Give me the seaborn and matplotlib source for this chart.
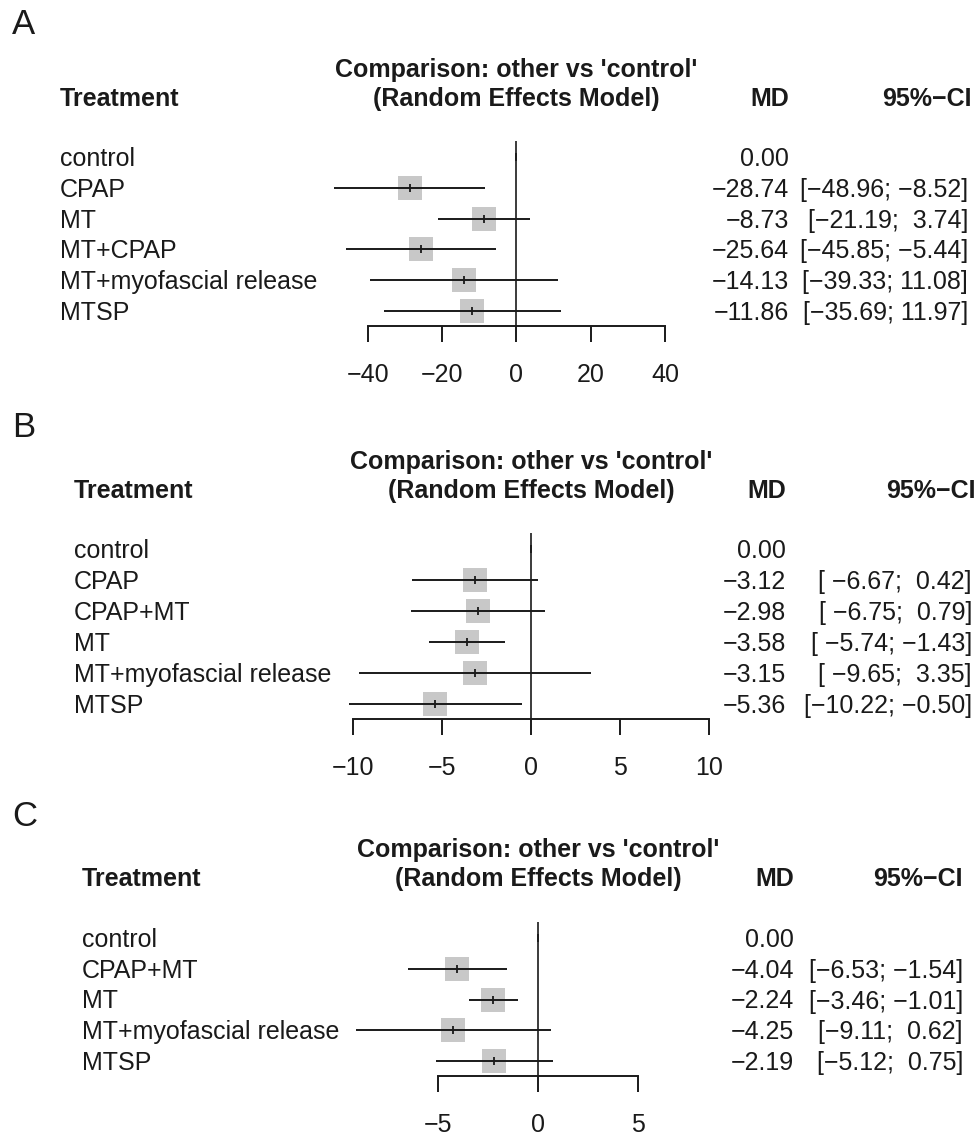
import matplotlib
matplotlib.use("Agg")
import matplotlib.pyplot as plt
import matplotlib.transforms as mtransforms
import numpy as np
import pandas as pd
import seaborn as sns

sns.set_style("white")
plt.rcParams["font.family"] = ["Liberation Sans", "DejaVu Sans"]

# data
a_treat = ["control", "CPAP", "MT", "MT+CPAP", "MT+myofascial release", "MTSP"]
a_md = [0.00, -28.74, -8.73, -25.64, -14.13, -11.86]
a_lo = [np.nan, -48.96, -21.19, -45.85, -39.33, -35.69]
a_hi = [np.nan, -8.52, 3.74, -5.44, 11.08, 11.97]
a_ticks = [-40, -20, 0, 20, 40]

b_treat = ["control", "CPAP", "CPAP+MT", "MT", "MT+myofascial release", "MTSP"]
b_md = [0.00, -3.12, -2.98, -3.58, -3.15, -5.36]
b_lo = [np.nan, -6.67, -6.75, -5.74, -9.65, -10.22]
b_hi = [np.nan, 0.42, 0.79, -1.43, 3.35, -0.50]
b_ticks = [-10, -5, 0, 5, 10]

c_treat = ["control", "CPAP+MT", "MT", "MT+myofascial release", "MTSP"]
c_md = [0.00, -4.04, -2.24, -4.25, -2.19]
c_lo = [np.nan, -6.53, -3.46, -9.11, -5.12]
c_hi = [np.nan, -1.54, -1.01, 0.62, 0.75]
c_ticks = [-5, 0, 5]

W, H = 978, 1137
MINUS = "\u2212"
INK = "#1a1a1a"
FS = 18

# pixel layout of each panel (x of tick range, y of rows, spine, text columns)
layouts = [
    dict(letter="A", xpx=(367.7, 665), top=141, rows=(157, 311), spine=326,
         lab=60, md=789, ci=968, cihead=972, head=(68, 97), let_y=22),
    dict(letter="B", xpx=(352.7, 709), top=533, rows=(549, 704), spine=719,
         lab=74, md=786, ci=972, cihead=976, head=(460, 489), let_y=425),
    dict(letter="C", xpx=(438.3, 638), top=922, rows=(938, 1061), spine=1076,
         lab=82, md=794, ci=963, cihead=963, head=(848, 877), let_y=815),
]
panels = [
    (a_treat, a_md, a_lo, a_hi, a_ticks),
    (b_treat, b_md, b_lo, b_hi, b_ticks),
    (c_treat, c_md, c_lo, c_hi, c_ticks),
]


def fmt(v):
    return f"{v:.2f}".replace("-", MINUS)


def ci_strings(lo, hi):
    lo_s = [f"{v:.2f}" for v in lo[1:]]
    hi_s = [f"{v:.2f}" for v in hi[1:]]
    wl = max(len(s) for s in lo_s)
    wh = max(len(s) for s in hi_s)
    out = [""]
    for l, h in zip(lo_s, hi_s):
        out.append(("[" + l.rjust(wl) + "; " + h.rjust(wh) + "]").replace("-", MINUS))
    return out


fig = plt.figure(figsize=(W / 100, H / 100), dpi=100)
# nudge all text a couple of pixels down so the glyph centres sit on the rows
nudge = mtransforms.ScaledTranslation(0, -2 / 100, fig.dpi_scale_trans)

for (treat, md, lo, hi, ticks), lay in zip(panels, layouts):
    n = len(treat)
    x0, x1 = lay["xpx"]
    ax = fig.add_axes([x0 / W, 1 - lay["spine"] / H, (x1 - x0) / W,
                       (lay["spine"] - lay["top"]) / H])
    step = (lay["rows"][1] - lay["rows"][0]) / (n - 1)
    ax.set_ylim((lay["spine"] - lay["rows"][0]) / step,
                (lay["top"] - lay["rows"][0]) / step)
    ax.set_xlim(ticks[0], ticks[-1])

    df = pd.DataFrame({"treat": treat, "md": md, "lo": lo, "hi": hi,
                       "row": np.arange(n)})
    est = df.iloc[1:]

    ax.axvline(0, color=INK, lw=1.2, zorder=1)
    sns.scatterplot(data=est, x="md", y="row", marker="s", s=300,
                    color="#c8c8c8", linewidth=0, ax=ax, zorder=2,
                    clip_on=False, legend=False)
    ax.hlines(est["row"], est["lo"], est["hi"], color=INK, lw=1.4,
              zorder=3, clip_on=False)
    ax.scatter(df["md"], df["row"], marker="|", s=34, color=INK,
               linewidths=1.3, zorder=4, clip_on=False)

    ax.set_xticks(ticks)
    ax.set_xticklabels([str(t).replace("-", MINUS) for t in ticks])
    ax.set_yticks([])
    ax.set_xlabel("")
    ax.set_ylabel("")
    for s in ["left", "right", "top"]:
        ax.spines[s].set_visible(False)
    ax.spines["bottom"].set_color(INK)
    ax.spines["bottom"].set_linewidth(1.4)
    ax.tick_params(axis="x", direction="out", length=11.5, width=1.4,
                   color=INK, labelsize=FS, labelcolor=INK, pad=15,
                   bottom=True)

    tr = mtransforms.blended_transform_factory(fig.transFigure, ax.transData) + nudge
    cis = ci_strings(lo, hi)
    for i in range(n):
        fig.text(lay["lab"] / W, i, treat[i], transform=tr, ha="left",
                 va="center", fontsize=FS, color=INK)
        fig.text(lay["md"] / W, i, fmt(md[i]), transform=tr, ha="right",
                 va="center", fontsize=FS, color=INK)
        if cis[i]:
            fig.text(lay["ci"] / W, i, cis[i], transform=tr, ha="right",
                     va="center", fontsize=FS, color=INK)

    # header rows
    h1, h2 = lay["head"]
    trt = mtransforms.blended_transform_factory(ax.transData, fig.transFigure) + nudge
    trf = fig.transFigure + nudge
    fig.text(0, 1 - h1 / H, "Comparison: other vs 'control'", transform=trt,
             ha="center", va="center", fontsize=FS, fontweight="bold", color=INK)
    fig.text(0, 1 - h2 / H, "(Random Effects Model)", transform=trt,
             ha="center", va="center", fontsize=FS, fontweight="bold", color=INK)
    fig.text(lay["lab"] / W, 1 - h2 / H, "Treatment", transform=trf, ha="left",
             va="center", fontsize=FS, fontweight="bold", color=INK)
    fig.text(lay["md"] / W, 1 - h2 / H, "MD", transform=trf, ha="right",
             va="center", fontsize=FS, fontweight="bold", color=INK)
    fig.text(lay["cihead"] / W, 1 - h2 / H, "95%" + MINUS + "CI", transform=trf,
             ha="right", va="center", fontsize=FS, fontweight="bold", color=INK)
    fig.text(12 / W, 1 - lay["let_y"] / H, lay["letter"], transform=trf,
             ha="left", va="center", fontsize=25, color=INK)

fig.savefig("out.png", dpi=100)
